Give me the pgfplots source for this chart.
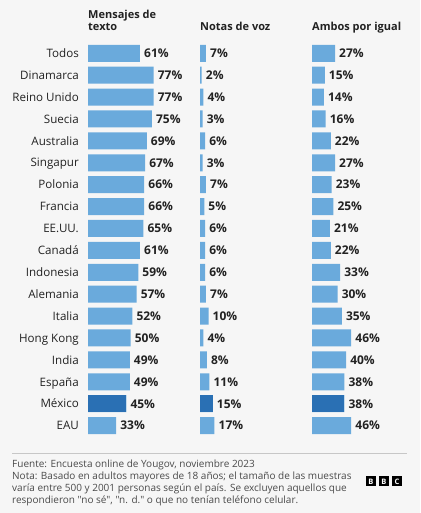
\documentclass[border=0pt]{standalone}
\usepackage{pgfplots}
\pgfplotsset{compat=1.18}
\usepackage{pgfplotstable}
\usepackage{fontspec}
\setmainfont{Open Sans}
\newfontfamily\ftfont{Open Sans}
\definecolor{bg}{HTML}{F6F6F6}
\definecolor{lb}{HTML}{6AAADC}
\definecolor{db}{HTML}{2A70B4}
\definecolor{tx}{HTML}{222222}
\definecolor{ft}{HTML}{4A4A4A}
\pgfplotstableread[col sep=comma]{
idx,name,txt,voz,ambos
0,Todos,61,7,27
1,Dinamarca,77,2,15
2,Reino Unido,77,4,14
3,Suecia,75,3,16
4,Australia,69,6,22
5,Singapur,67,3,27
6,Polonia,66,7,23
7,Francia,66,5,25
8,EE.UU.,65,6,21
9,Canadá,61,6,22
10,Indonesia,59,6,33
11,Alemania,57,7,30
12,Italia,52,10,35
13,Hong Kong,50,4,46
14,India,49,8,40
15,España,49,11,38
16,México,45,15,38
17,EAU,33,17,46
}\datatab
\pgfplotsset{
  panel/.style={
    scale only axis, width=85.2pt, height=394.2pt,
    xmin=0, xmax=100, ymin=-0.5, ymax=17.5, y dir=reverse,
    axis line style={draw=none}, clip=false, xbar, bar width=17pt, bar shift=0pt,
    ytick=\empty, xtick=\empty, major tick length=0pt,
    /pgf/number format/assume math mode=true,
  },
  vals/.style={
    draw=none, fill=lb,
    nodes near coords={\pgfmathprintnumber{\pgfplotspointmeta}\%},
    point meta=x,
    every node near coord/.append style={font=\fontsize{12}{14}\selectfont\bfseries, text=tx, anchor=base west, inner sep=0pt, xshift=4pt, yshift=-4.3pt},
  },
}
\begin{document}
\begin{tikzpicture}
\fill[bg] (0,0) rectangle (420pt,513pt);
\useasboundingbox (0,0) rectangle (420pt,513pt);
% panel 1
\begin{axis}[panel, at={(88pt,470.65pt)}, anchor=north west,
  ytick={0,...,17},
  yticklabels from table={\datatab}{name},
  yticklabel style={font=\fontsize{11.6}{14}\selectfont, text=tx, anchor=base east, inner sep=0pt, xshift=-9pt, yshift=-4.2pt}]
\addplot[vals] table[x=txt, y=idx] {\datatab};
\addplot[draw=none, fill=db] coordinates {(45,16)};
\end{axis}
% panel 2
\begin{axis}[panel, at={(200pt,470.65pt)}, anchor=north west]
\addplot[vals] table[x=voz, y=idx] {\datatab};
\addplot[draw=none, fill=db] coordinates {(15,16)};
\end{axis}
% panel 3
\begin{axis}[panel, at={(312pt,470.65pt)}, anchor=north west]
\addplot[vals] table[x=ambos, y=idx] {\datatab};
\addplot[draw=none, fill=db] coordinates {(38,16)};
\end{axis}
% headers
\begin{scope}[every node/.style={font=\fontsize{11}{12}\selectfont\bfseries, text=tx, anchor=base west, inner sep=0pt}]
\node at (88pt,494pt) {Mensajes de};
\node at (88pt,482pt) {texto};
\node at (200pt,482pt) {Notas de voz};
\node at (312pt,482pt) {Ambos por igual};
\end{scope}
% separator
\draw[color=black!22, line width=0.8pt] (12pt,60pt) -- (407pt,60pt);
% footer
\begin{scope}[every node/.style={font=\ftfont\fontsize{10}{12}\selectfont, text=ft, anchor=base west, inner sep=0pt}]
\node at (12pt,45.3pt) {Fuente: Encuesta online de Yougov, noviembre 2023};
\node at (12pt,33pt) {Nota: Basado en adultos mayores de 18 años; el tamaño de las muestras};
\node at (12pt,21.3pt) {varía entre 500 y 2001 personas según el país. Se excluyen aquellos que};
\node at (12pt,9.6pt) {respondieron "no sé", "n. d." o que no tenían teléfono celular.};
\end{scope}
% BBC logo
\foreach \xx/\ll in {366/B,379/B,392/C}{
  \fill[black] (\xx pt,26.5pt) rectangle ++(10pt,10pt);
  \node[text=white, font=\fontsize{7.5}{7.5}\selectfont\bfseries, inner sep=0pt] at (\xx pt+5pt,31.5pt) {\ll};
}
\end{tikzpicture}
\end{document}
